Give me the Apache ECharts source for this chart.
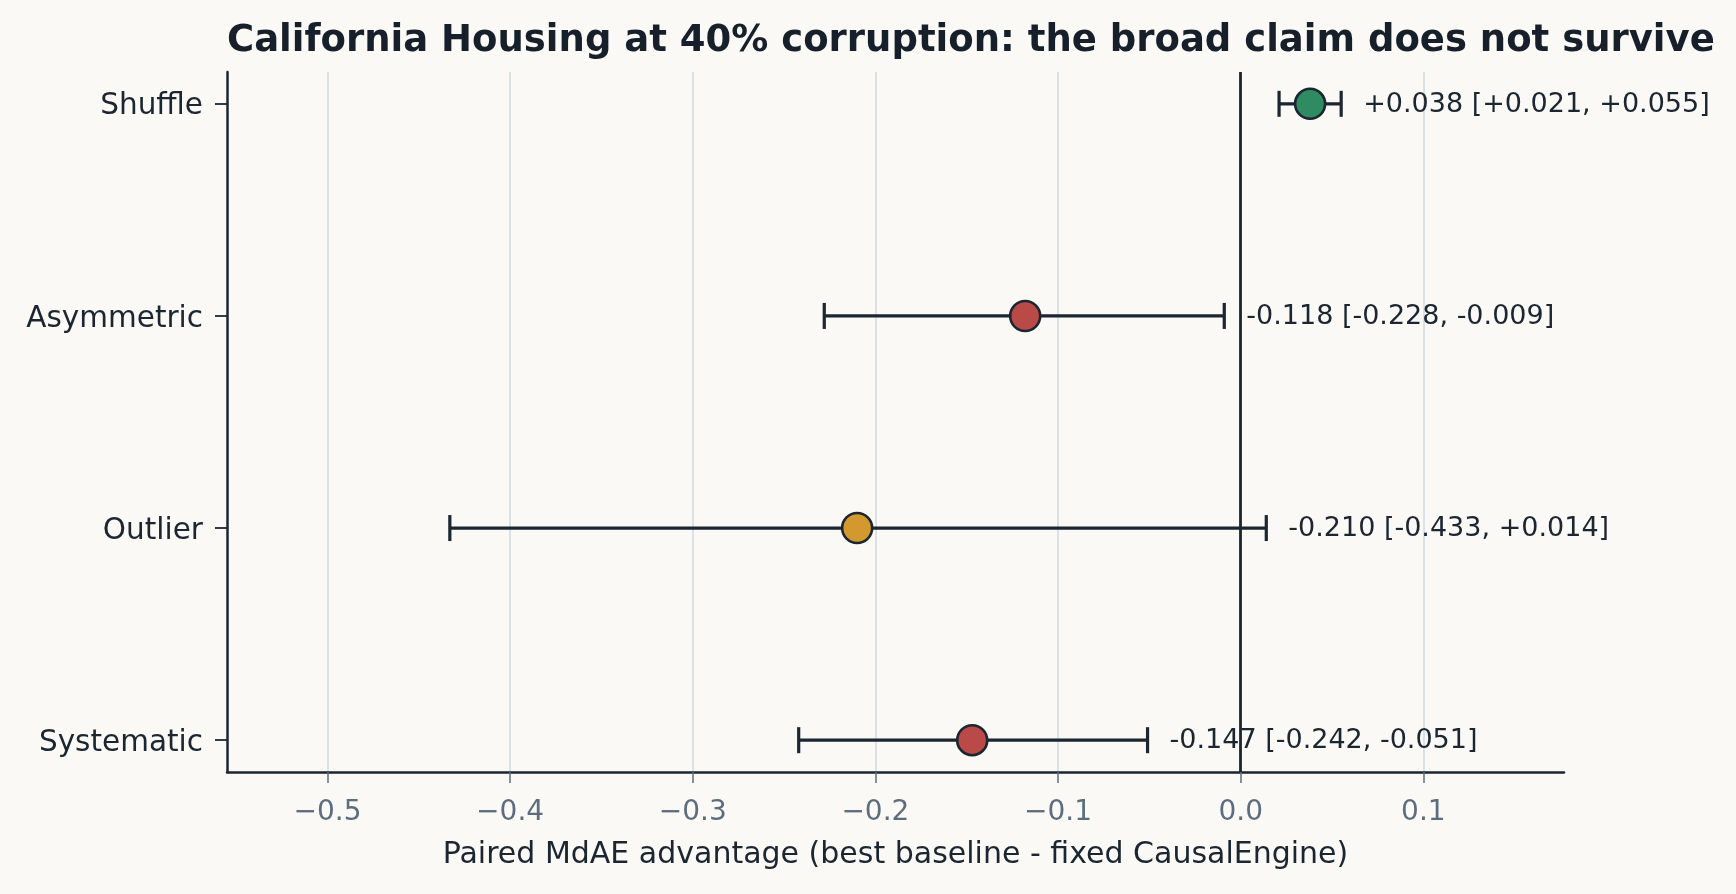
<!DOCTYPE html>
<html>
<head>
<meta charset="utf-8">
<script src="https://cdn.jsdelivr.net/npm/echarts@6/dist/echarts.min.js"></script>
<style>
  html, body { margin: 0; padding: 0; background: #faf9f6; }
  #chart { width: 1736px; height: 894px; }
</style>
</head>
<body>
<div id="chart"></div>
<script>
// rows, top to bottom
var categories = ['Shuffle', 'Asymmetric', 'Outlier', 'Systematic'];
var estimates = [0.038, -0.118, -0.210, -0.147];
var lower = [0.021, -0.228, -0.433, -0.242];
var upper = [0.055, -0.009, 0.014, -0.051];
var pointColors = ['#2e8b62', '#b94a48', '#d4992e', '#b94a48'];
var xTicks = [-0.5, -0.4, -0.3, -0.2, -0.1, 0.0, 0.1];
var yTicks = [0, 1, 2, 3];

var dark = '#1b2631';
var font = 'DejaVu Sans';

function signed (v) {
  return (v >= 0 ? '+' : '-') + Math.abs(v).toFixed(3);
}

var n = categories.length;
var barData = [];
var pointData = [];
categories.forEach(function (c, i) {
  var pos = n - 1 - i;
  barData.push([lower[i], upper[i], pos, i]);
  pointData.push({
    value: [estimates[i], pos],
    itemStyle: { color: pointColors[i] }
  });
});

var chart = echarts.init(document.getElementById('chart'));

var option = {
  backgroundColor: '#faf9f6',
  animation: false,
  title: {
    text: 'California Housing at 40% corruption: the broad claim does not survive',
    left: 222,
    top: 18,
    textStyle: { fontFamily: font, fontSize: 37, fontWeight: 'bold', color: '#17202a' }
  },
  grid: { left: 227, right: 172, top: 72, bottom: 122 },
  xAxis: {
    type: 'value',
    min: -0.555,
    max: 0.177,
    name: 'Paired MdAE advantage (best baseline - fixed CausalEngine)',
    nameLocation: 'middle',
    nameGap: 68,
    nameTextStyle: { fontFamily: font, fontSize: 30, color: dark },
    axisLine: { onZero: false, lineStyle: { color: dark, width: 2.5 } },
    axisTick: { show: true, length: 11, customValues: xTicks, lineStyle: { color: '#5d6d7e', width: 1.5 } },
    axisLabel: {
      customValues: xTicks,
      margin: 27,
      fontFamily: font,
      fontSize: 28,
      color: '#5d6d7e',
      formatter: function (v) {
        var s = Math.abs(v).toFixed(1);
        return (v < -1e-9 ? '\u2212' : '') + s;
      }
    },
    splitLine: { show: true, lineStyle: { color: '#d3dbe4', width: 1.6 } }
  },
  yAxis: {
    type: 'value',
    min: -0.15,
    max: 3.15,
    axisLine: { show: true, onZero: false, lineStyle: { color: dark, width: 2.5 } },
    axisTick: { show: true, length: 12, customValues: yTicks, lineStyle: { color: dark, width: 1.8 } },
    axisLabel: {
      customValues: yTicks,
      margin: 24,
      formatter: function (v) {
        return '{c|' + categories[n - 1 - Math.round(v)] + '}';
      },
      rich: {
        c: {
          fontFamily: font,
          fontSize: 29.5,
          color: dark,
          padding: [6, 0, 0, 0]
        }
      }
    },
    splitLine: { show: false }
  },
  series: [
    {
      type: 'custom',
      z: 3,
      data: barData,
      renderItem: function (params, api) {
        var y = api.value(2);
        var i = api.value(3);
        var a = api.coord([api.value(0), y]);
        var b = api.coord([api.value(1), y]);
        var h = 13;
        var st = { stroke: dark, lineWidth: 3.2 };
        return {
          type: 'group',
          children: [
            { type: 'line', shape: { x1: a[0], y1: a[1], x2: b[0], y2: b[1] }, style: st },
            { type: 'line', shape: { x1: a[0], y1: a[1] - h, x2: a[0], y2: a[1] + h }, style: st },
            { type: 'line', shape: { x1: b[0], y1: b[1] - h, x2: b[0], y2: b[1] + h }, style: st },
            {
              type: 'text',
              x: b[0] + 22,
              y: b[1] + 1,
              style: {
                text: signed(estimates[i]) + ' [' + signed(lower[i]) + ', ' + signed(upper[i]) + ']',
                fill: dark,
                fontFamily: font,
                fontSize: 27,
                align: 'left',
                verticalAlign: 'middle'
              }
            }
          ]
        };
      },
      markLine: {
        silent: true,
        symbol: 'none',
        label: { show: false },
        lineStyle: { color: dark, width: 2.8, type: 'solid' },
        data: [{ xAxis: 0 }]
      }
    },
    {
      type: 'scatter',
      z: 5,
      symbol: 'circle',
      symbolSize: 30,
      itemStyle: { borderColor: dark, borderWidth: 2.6, opacity: 1 },
      data: pointData
    }
  ]
};

chart.setOption(option);
</script>
</body>
</html>
